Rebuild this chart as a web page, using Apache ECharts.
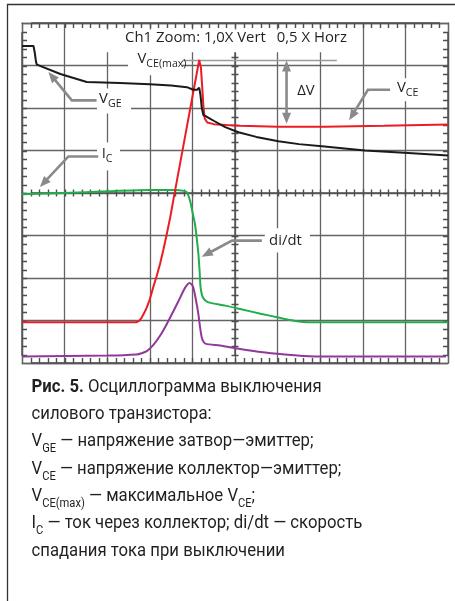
<!DOCTYPE html>
<html><head><meta charset="utf-8">
<script src="https://cdn.jsdelivr.net/npm/echarts@6/dist/echarts.min.js"></script>
<style>html,body{margin:0;padding:0;background:#fff}#c{width:455px;height:601px}</style>
</head><body><div id="c"></div>
<script>
// ---- data (x in horizontal divisions, y in vertical divisions) ----
const vge = [[0,7.46],[0.27,7.46],[0.30,7.30],[0.33,7.08],[0.35,7.02],[0.38,6.98],[0.9,6.80],[1.52,6.61],[2.3,6.59],[3.0,6.56],[3.5,6.53],[3.87,6.49],[4.02,6.43],[4.11,6.43],[4.16,6.48],[4.19,6.30],[4.22,6.00],[4.26,5.83],[4.31,5.81],[4.34,5.85],[4.38,5.77],[4.5,5.70],[4.77,5.55],[5.08,5.43],[5.5,5.32],[6.02,5.22],[6.5,5.15],[7.04,5.10],[8.05,5.00],[9.07,4.94],[10,4.88]];
const vce = [[0,0.96],[2.69,0.96],[2.75,0.99],[2.81,1.07],[2.87,1.18],[2.93,1.31],[3.0,1.50],[3.08,1.78],[3.16,2.04],[3.24,2.33],[3.32,2.67],[3.40,3.04],[3.48,3.43],[3.55,3.82],[4.16,7.13],[4.20,6.95],[4.23,6.5],[4.26,6.02],[4.29,5.75],[4.35,5.66],[4.5,5.62],[4.8,5.60],[5.12,5.58],[6.0,5.56],[7.11,5.56],[8.5,5.58],[10,5.61]];
const ic = [[0,3.97],[1.5,4.02],[3.0,4.07],[3.6,4.07],[3.80,4.05],[3.87,4.02],[3.91,3.93],[3.95,3.80],[4.00,3.56],[4.06,3.27],[4.10,2.95],[4.14,2.57],[4.17,2.15],[4.19,1.80],[4.22,1.62],[4.26,1.52],[4.32,1.46],[4.4,1.42],[4.77,1.35],[5.12,1.27],[5.6,1.16],[6.02,1.07],[6.3,1.01],[6.5,0.975],[6.7,0.96],[10,0.96]];
const didt = [[0,0.155],[2.0,0.175],[2.69,0.20],[2.81,0.23],[2.93,0.28],[3.08,0.42],[3.24,0.64],[3.40,0.92],[3.55,1.21],[3.68,1.47],[3.79,1.70],[3.87,1.83],[3.93,1.88],[3.98,1.85],[4.02,1.78],[4.08,1.50],[4.14,1.15],[4.18,0.84],[4.22,0.60],[4.26,0.50],[4.32,0.45],[4.65,0.41],[5.12,0.33],[5.6,0.26],[6.17,0.20],[6.6,0.165],[6.88,0.155],[9.95,0.155]];
const xRange = [0, 10];
const yRange = [0, 8];
const minorPerDiv = 5;

const captionLines = [
  '{b|Рис. 5.}{n| Осциллограмма выключения}',
  '{n|силового транзистора:}',
  '{n|V}{s|GE}{n| — напряжение затвор—эмиттер;}',
  '{n|V}{s|CE}{n| — напряжение коллектор—эмиттер;}',
  '{n|V}{s|CE(max)}{n| — максимальное V}{s|CE}{n|;}',
  '{n|I}{s|C}{n| — ток через коллектор; di/dt — скорость}',
  '{n|спадания тока при выключении}'
];

// ---- layout / style ----
const G = {left:22, top:23, width:426, height:340};
const gridCol = '#646464';
const tickCol = '#4e4e4e';
function ax(pos, split){
  const horiz = pos==='top'||pos==='bottom';
  return {
    type:'value', position:pos, min: horiz? xRange[0]:yRange[0],
    max: horiz? xRange[1]:yRange[1], interval:1,
    axisLine:{show:true, onZero:false, lineStyle:{color:gridCol, width:1.3}},
    axisTick:{show:false}, minorTick:{show:false},
    axisLabel:{show:false},
    splitLine:{show:split, lineStyle:{color:gridCol, width:1.3}}, axisPointer:{show:false}
  };
}
function ser(name, data, color, smooth, z){
  return {name, type:'line', data, xAxisIndex:0, yAxisIndex:0, showSymbol:false, symbol:'none',
    smooth: smooth, lineStyle:{color, width:2}, itemStyle:{color}, z: z, silent:true};
}
const chart = echarts.init(document.getElementById('c'), null, {renderer:'canvas'});
chart.setOption({
  animation:false, backgroundColor:'#fff',
  grid: Object.assign({}, G, {show:false}),
  xAxis: [ax('bottom', true), ax('top', false)],
  yAxis: [ax('left', true), ax('right', false)],
  series: [
    ser('di/dt', didt, '#8f3a98', 0.2, 2),
    ser('IC', ic, '#1fae4b', 0.2, 2),
    ser('VCE', vce, '#ec1c24', false, 3),
    ser('VGE', vge, '#1a1a1a', false, 4)
  ]
});

// ---- annotations (data units) ----
const P = p => chart.convertToPixel({xAxisIndex:0, yAxisIndex:0}, p);
const ctx = document.createElement('canvas').getContext('2d');
function tw(font, s){ ctx.font = font; return ctx.measureText(s).width; }
const capFam = 'Roboto', lblFam = '"Open Sans"';
const capScale = (163.5 + 270) / (tw('18px Roboto','силового транзистора:') + tw('18px Roboto','спадания тока при выключении'));
const lblScale = (139.3 + 71.6) / (tw('14px "Open Sans"','Ch1 Zoom: 1,0X Vert') + tw('14px "Open Sans"','0,5 X Horz'));
const txtCol = '#231f20', arrCol = '#8a8a8a';

const boxes = [
  [[1.90,7.85],[7.84,7.31]],
  [[2.49,7.31],[3.76,6.77]],
  [[1.76,6.46],[2.56,5.87]],
  [[1.76,5.19],[2.30,4.53]],
  [[5.70,3.17],[6.76,2.60]],
  [[8.71,6.70],[9.39,6.16]]
];
const leaders = [
  {pts:[[1.75,6.18],[1.17,6.18],[0.62,6.85]]},
  {pts:[[1.79,4.86],[1.09,4.86],[0.42,4.14]]},
  {pts:[[5.63,2.88],[4.93,2.88],[4.22,2.50]]},
  {pts:[[8.64,6.43],[8.12,6.43],[7.68,5.71]]},
  {pts:[[6.21,7.12],[6.21,5.63]], both:true}
];
const labels = [
  {at:[2.42,7.64], text:'{m|Ch1 Zoom: 1,0X Vert}'},
  {at:[5.98,7.64], text:'{m|0,5 X Horz}'},
  {at:[2.71,7.16], text:'{m|V}{s|CE(max)}'},
  {at:[1.81,6.21], text:'{m|V}{s|GE}'},
  {at:[1.87,4.92], text:'{m|I}{s|C}'},
  {at:[5.80,2.88], text:'{m|di/dt}'},
  {at:[8.80,6.46], text:'{m|V}{s|CE}'},
  {at:[6.46,6.41], text:'{m|ΔV}'}
];
const refLine = [[3.76,7.12],[7.39,7.12]];

const els = [];
els.push({type:'rect', shape:{x:7.5, y:4.5, width:520, height:700}, style:{fill:'none', stroke:'#333', lineWidth:1.3}, silent:true, z:0});

// graticule ticks (minor divisions) on the border and centre lines, placed through the axis scale
const xMid = (xRange[0]+xRange[1])/2, yMid = (yRange[0]+yRange[1])/2;
const nX = (xRange[1]-xRange[0])*minorPerDiv, nY = (yRange[1]-yRange[0])*minorPerDiv;
const tb = [], tt = [], tm = [], tl = [], tr = [], tv = [];
for (let k=1; k<nX; k++){
  const xv = xRange[0] + k/minorPerDiv;
  const xp = Math.round(P([xv, yMid])[0]) + 0.5;
  const b = P([xv, yRange[0]])[1], t = P([xv, yRange[1]])[1], m = P([xv, yMid])[1];
  tb.push([xp,b],[xp,b-5],[xp,b]);
  tt.push([xp,t],[xp,t+5],[xp,t]);
  tm.push([xp,m],[xp,m-3.5],[xp,m+3.5],[xp,m]);
}
for (let k=1; k<nY; k++){
  const yv = yRange[0] + k/minorPerDiv;
  const yp = Math.round(P([xMid, yv])[1]) + 0.5;
  const l = P([xRange[0], yv])[0], r = P([xRange[1], yv])[0], m = P([xMid, yv])[0];
  tl.push([l,yp],[l+5,yp],[l,yp]);
  tr.push([r,yp],[r-5,yp],[r,yp]);
  tv.push([m,yp],[m-3.5,yp],[m+3.5,yp],[m,yp]);
}
[tb, tt, tm, tl, tr, tv].forEach(pts => {
  els.push({type:'polyline', shape:{points:pts}, style:{stroke:tickCol, lineWidth:1.4, fill:null, lineJoin:'bevel'}, silent:true, z:1});
});

boxes.forEach(b => {
  const a = P(b[0]), c = P(b[1]);
  els.push({type:'rect', shape:{x:a[0], y:a[1], width:c[0]-a[0], height:c[1]-a[1]}, style:{fill:'#fff'}, silent:true, z:1});
});
{ const a = P(refLine[0]), c = P(refLine[1]);
  els.push({type:'line', shape:{x1:a[0], y1:a[1], x2:c[0], y2:c[1]}, style:{stroke:'#9a9a9a', lineWidth:1.5}, silent:true, z:2}); }
function head(tip, from){
  const L=11, W=4.5;
  const dx=tip[0]-from[0], dy=tip[1]-from[1], len=Math.hypot(dx,dy), ux=dx/len, uy=dy/len;
  const bx=tip[0]-ux*L, by=tip[1]-uy*L;
  return {poly:[[tip[0],tip[1]],[bx-uy*W,by+ux*W],[bx+uy*W,by-ux*W]], base:[bx+ux*2,by+uy*2]};
}
leaders.forEach(l => {
  const pts = l.pts.map(P), n = pts.length;
  const lp = pts.map(p=>p.slice());
  const h = head(pts[n-1], pts[n-2]); lp[n-1] = h.base;
  els.push({type:'polygon', shape:{points:h.poly}, style:{fill:arrCol}, silent:true, z:5});
  if (l.both){ const h2 = head(pts[0], pts[1]); lp[0] = h2.base;
    els.push({type:'polygon', shape:{points:h2.poly}, style:{fill:arrCol}, silent:true, z:5}); }
  els.push({type:'polyline', shape:{points:lp}, style:{stroke:arrCol, lineWidth:2.6, fill:null}, silent:true, z:5});
});
const lblRich = {
  m:{fontFamily:lblFam, fontSize:14, lineHeight:20, fill:txtCol},
  s:{fontFamily:lblFam, fontSize:10, lineHeight:7, verticalAlign:'bottom', fill:txtCol}
};
labels.forEach(l => {
  const p = P(l.at);
  els.push({type:'text', x:p[0], y:p[1], scaleX:lblScale, silent:true, z:6,
    style:{text:l.text, rich:lblRich, fontFamily:lblFam, fontSize:14, fill:txtCol, align:'left', verticalAlign:'middle'}});
});
const capRich = {
  b:{fontFamily:capFam, fontSize:18, fontWeight:'bold', lineHeight:27, fill:txtCol},
  n:{fontFamily:capFam, fontSize:18, lineHeight:27, fill:txtCol},
  s:{fontFamily:capFam, fontSize:12, lineHeight:17, verticalAlign:'bottom', fill:txtCol}
};
captionLines.forEach((t,i) => {
  const baseline = 393.5 + 27.3*i;
  els.push({type:'text', x:31.5, y:baseline-6.2, scaleX:capScale, silent:true, z:6,
    style:{text:t, rich:capRich, fontFamily:capFam, fontSize:18, fill:txtCol, align:'left', verticalAlign:'middle'}});
});
chart.setOption({graphic:{elements:els}});
</script></body></html>
